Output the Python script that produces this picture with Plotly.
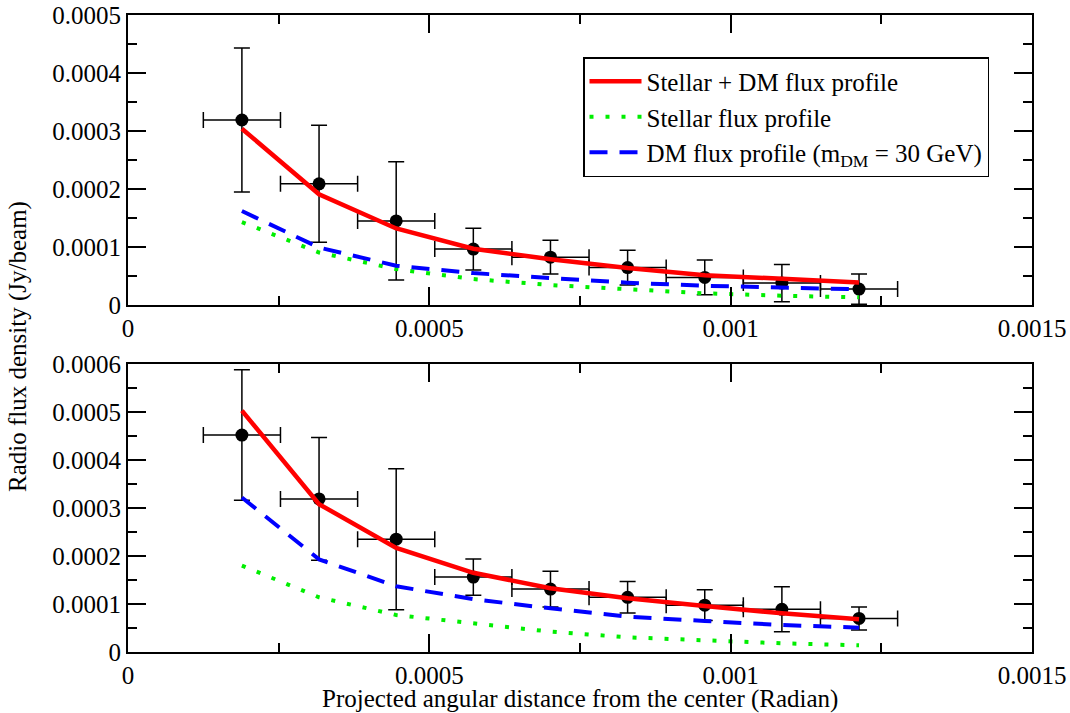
import plotly.graph_objects as go

# ---------------- data ----------------
x_bins = [0.000189, 0.000317, 0.000445, 0.000573, 0.000701, 0.000829, 0.000957, 0.001085, 0.001213]
x_err = [0.000064] * 9

# top panel
top_obs = [0.000319, 0.000209, 0.000145, 0.0000965, 0.0000825, 0.0000645, 0.0000475, 0.0000378, 0.0000275]
top_obs_err = [0.000124, 0.000101, 0.000102, 0.000036, 0.000029, 0.000030, 0.000030, 0.000032, 0.000026]
top_total = [0.000304, 0.000191, 0.000132, 0.0000970, 0.0000790, 0.0000636, 0.0000515, 0.0000447, 0.0000390]
top_stellar = [0.000143, 0.0000905, 0.0000619, 0.0000447, 0.0000344, 0.0000275, 0.0000201, 0.0000160, 0.0000132]
top_dm = [0.000162, 0.0000991, 0.0000676, 0.0000550, 0.0000464, 0.0000384, 0.0000332, 0.0000298, 0.0000270]

# bottom panel
bot_obs = [0.000452, 0.000319, 0.000235, 0.000156, 0.000131, 0.000114, 0.0000975, 0.0000890, 0.0000700]
bot_obs_err = [0.000136, 0.000128, 0.000147, 0.000038, 0.000037, 0.000033, 0.000032, 0.000047, 0.000024]
bot_total = [0.000503, 0.000308, 0.000217, 0.000165, 0.000133, 0.000112, 0.0000958, 0.0000806, 0.0000681]
bot_stellar = [0.000180, 0.000114, 0.0000771, 0.0000597, 0.0000424, 0.0000306, 0.0000236, 0.0000181, 0.0000140]
bot_dm = [0.000322, 0.000193, 0.000137, 0.000110, 0.0000910, 0.0000736, 0.0000646, 0.0000563, 0.0000507]

name_total = "Stellar + DM flux profile"
name_stellar = "Stellar flux profile"
name_dm = "DM flux profile (m<sub>DM</sub> = 30 GeV)"

FONT = "Liberation Serif, Times New Roman, serif"
RED = "#ff0000"
GREEN = "#00ee00"
BLUE = "#0000ff"

fig = go.Figure()


def add_panel(xa, ya, obs, err, total, stellar, dm, show):
    fig.add_trace(go.Scatter(
        x=x_bins, y=obs, mode="markers", xaxis=xa, yaxis=ya, showlegend=False,
        marker=dict(color="black", size=13),
        error_x=dict(type="data", array=x_err, color="black", thickness=1.5, width=8),
        error_y=dict(type="data", array=err, color="black", thickness=1.5, width=8),
    ))
    fig.add_trace(go.Scatter(
        x=x_bins, y=stellar, mode="lines", xaxis=xa, yaxis=ya, name=name_stellar,
        showlegend=show, legendrank=2,
        line=dict(color=GREEN, width=4, dash="4px,12px"),
    ))
    fig.add_trace(go.Scatter(
        x=x_bins, y=dm, mode="lines", xaxis=xa, yaxis=ya, name=name_dm,
        showlegend=show, legendrank=3,
        line=dict(color=BLUE, width=4, dash="18px,12px"),
    ))
    fig.add_trace(go.Scatter(
        x=x_bins, y=total, mode="lines", xaxis=xa, yaxis=ya, name=name_total,
        showlegend=show, legendrank=1,
        line=dict(color=RED, width=4.5),
    ))


add_panel("x", "y", top_obs, top_obs_err, top_total, top_stellar, top_dm, True)
add_panel("x2", "y2", bot_obs, bot_obs_err, bot_total, bot_stellar, bot_dm, False)

axis_common = dict(
    showgrid=False, zeroline=False, showline=True, linecolor="black", linewidth=2,
    mirror="allticks", ticks="inside", ticklen=18, tickwidth=1.5, tickcolor="black",
    automargin=False, ticklabeloverflow="allow",
    tickfont=dict(family=FONT, size=25, color="black"),
    minor=dict(ticks="inside", ticklen=9, tickwidth=1.5, tickcolor="black", showgrid=False),
)

xticks = [0, 0.0005, 0.001, 0.0015]
xlabels = ["0", "0.0005", "0.001", "0.0015"]
top_yticks = [0, 0.0001, 0.0002, 0.0003, 0.0004, 0.0005]
top_ylabels = ["0", "0.0001", "0.0002", "0.0003", "0.0004", "0.0005"]
bot_yticks = [0, 0.0001, 0.0002, 0.0003, 0.0004, 0.0005, 0.0006]
bot_ylabels = ["0", "0.0001", "0.0002", "0.0003", "0.0004", "0.0005", "0.0006"]

top_dom = [(652 - 305) / 637, 1.0]
bot_dom = [0.0, (652 - 364) / 637]

fig.update_layout(
    width=1070, height=713,
    margin=dict(l=128, r=38, t=15, b=61),
    paper_bgcolor="white", plot_bgcolor="white",
    font=dict(family=FONT, color="black"),
    xaxis=dict(axis_common, range=[0, 0.0015], tickvals=xticks, ticktext=xlabels,
               domain=[0, 1], anchor="y",
               minor=dict(axis_common["minor"], dtick=0.00025, tick0=0)),
    yaxis=dict(axis_common, range=[0, 0.0005], tickvals=top_yticks, ticktext=top_ylabels,
               domain=top_dom, anchor="x",
               minor=dict(axis_common["minor"], dtick=0.00005, tick0=0)),
    xaxis2=dict(axis_common, range=[0, 0.0015], tickvals=xticks, ticktext=xlabels,
                domain=[0, 1], anchor="y2",
                minor=dict(axis_common["minor"], dtick=0.00025, tick0=0)),
    yaxis2=dict(axis_common, range=[0, 0.0006], tickvals=bot_yticks, ticktext=bot_ylabels,
                domain=bot_dom, anchor="x2",
                minor=dict(axis_common["minor"], dtick=0.00005, tick0=0)),
    legend=dict(
        x=(583 - 128) / 904, y=(652 - 57) / 637, xanchor="left", yanchor="top",
        bgcolor="white", bordercolor="black", borderwidth=1.5,
        font=dict(family=FONT, size=25, color="black"),
        tracegroupgap=0, itemwidth=52,
    ),
    annotations=[
        dict(text="Radio flux density (Jy/beam)", textangle=-90, showarrow=False,
             xref="paper", yref="paper", x=(18 - 128) / 904, y=(652 - 347) / 637,
             xanchor="center", yanchor="middle",
             font=dict(family=FONT, size=25, color="black")),
        dict(text="Projected angular distance from the center (Radian)", showarrow=False,
             xref="paper", yref="paper", x=(580 - 128) / 904, y=(652 - 699) / 637,
             xanchor="center", yanchor="middle",
             font=dict(family=FONT, size=25, color="black")),
    ],
)

# remove the browser's default 8px page margin so the figure sits at the window origin
fig.write_html("out.html", config={"displayModeBar": False},
               post_script="document.body.style.margin='0';")
